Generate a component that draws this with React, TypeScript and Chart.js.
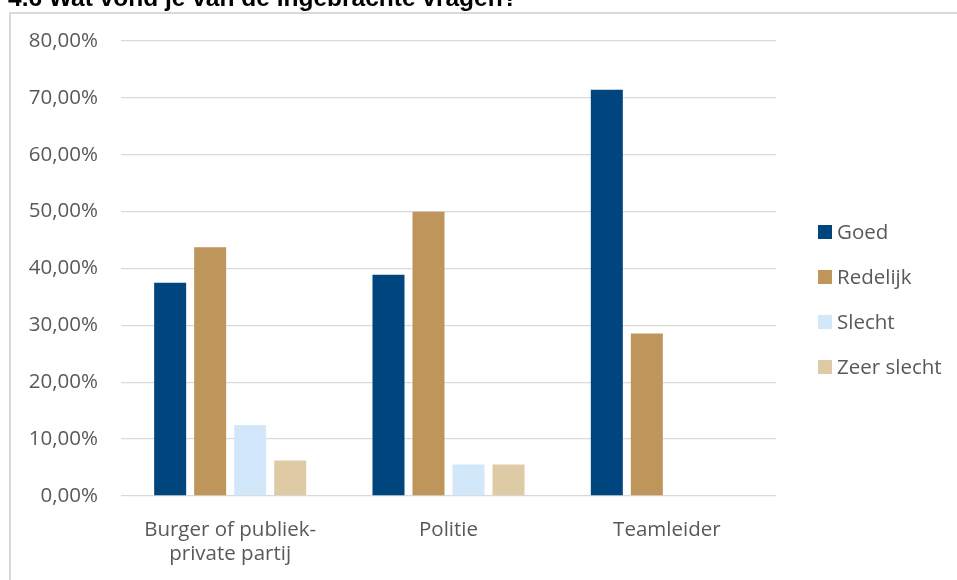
import React, { useEffect, useRef } from "react";
import { Chart, registerables } from "chart.js";

Chart.register(...registerables);

// Survey answers per group, in percent
const categories: (string | string[])[] = [["Burger of publiek-", "private partij"], "Politie", "Teamleider"];
const seriesNames = ["Goed", "Redelijk", "Slecht", "Zeer slecht"];
const goed = [37.5, 38.89, 71.43];
const redelijk = [43.75, 50.0, 28.57];
const slecht = [12.5, 5.56, 0];
const zeerSlecht = [6.25, 5.56, 0];
const seriesColors = ["#00457E", "#BE955A", "#D3E7FB", "#DECBA5"];
const yMin = 0;
const yMax = 80;
const yStep = 10;
const titleText = "4.6 Wat vond je van de ingebrachte vragen?";

const TEXT_COLOR = "#595959";
const GRID_COLOR = "#D9D9D9";
const FONT_FAMILY = '"Open Sans", "DejaVu Sans", sans-serif';
const FONT_SIZE = 20.5;

const formatPercent = (v: number) => v.toFixed(2).replace(".", ",") + "%";

// Frame and the heading above it
const framePlugin = {
  id: "frame",
  beforeDraw(chart: Chart) {
    const { ctx, width, height } = chart;
    ctx.save();
    ctx.fillStyle = "#FFFFFF";
    ctx.fillRect(0, 0, width, height);
    ctx.strokeStyle = GRID_COLOR;
    ctx.lineWidth = 2;
    ctx.beginPath();
    ctx.moveTo(10, height + 5);
    ctx.lineTo(10, 13);
    ctx.lineTo(width + 5, 13);
    ctx.stroke();
    ctx.fillStyle = "#000000";
    ctx.font = 'bold 24.5px "Liberation Sans", Arial, sans-serif';
    ctx.textBaseline = "alphabetic";
    ctx.textAlign = "left";
    ctx.fillText(titleText, 8, 6);
    ctx.restore();
  },
};

// Legend drawn to the right of the plot area
const sideLegendPlugin = {
  id: "sideLegend",
  afterDraw(chart: Chart) {
    const { ctx, chartArea } = chart;
    const x0 = chartArea.right + 42;
    const yStart = 232;
    const gap = 45;
    const box = 14;
    ctx.save();
    ctx.font = `${FONT_SIZE}px ${FONT_FAMILY}`;
    ctx.textAlign = "left";
    ctx.textBaseline = "alphabetic";
    chart.data.datasets.forEach((ds, i) => {
      const cy = yStart + i * gap;
      ctx.fillStyle = ds.backgroundColor as string;
      ctx.fillRect(x0, cy - box / 2, box, box);
      ctx.fillStyle = TEXT_COLOR;
      ctx.fillText(String(ds.label), x0 + box + 5, cy + 7);
    });
    ctx.restore();
  },
};

export default function App() {
  const canvasRef = useRef<HTMLCanvasElement | null>(null);

  useEffect(() => {
    const canvas = canvasRef.current;
    if (!canvas) return;
    const values = [goed, redelijk, slecht, zeerSlecht];
    const chart = new Chart(canvas, {
      type: "bar",
      data: {
        labels: categories,
        datasets: seriesNames.map((name, i) => ({
          label: name,
          data: values[i],
          backgroundColor: seriesColors[i],
          borderWidth: 0,
          categoryPercentage: 0.733,
          barPercentage: 0.8,
        })),
      },
      options: {
        responsive: false,
        animation: false,
        devicePixelRatio: 1,
        layout: { padding: { left: 0, right: 181, top: 41, bottom: 0 } },
        plugins: {
          legend: { display: false },
          title: { display: false },
          tooltip: { enabled: false },
        },
        scales: {
          x: {
            grid: { display: false },
            border: { display: false },
            ticks: {
              color: TEXT_COLOR,
              padding: 14,
              maxRotation: 0,
              autoSkip: false,
              font: { family: FONT_FAMILY, size: FONT_SIZE, lineHeight: 1.17 },
            },
            afterFit(scale: any) {
              scale.height = 84;
            },
          },
          y: {
            min: yMin,
            max: yMax,
            grid: { color: GRID_COLOR, lineWidth: 1.3, drawTicks: false },
            border: { display: false },
            ticks: {
              stepSize: yStep,
              color: TEXT_COLOR,
              padding: 23,
              font: { family: FONT_FAMILY, size: FONT_SIZE },
              callback: (v: any) => formatPercent(Number(v)),
            },
            afterFit(scale: any) {
              scale.width = 121;
            },
          },
        },
      },
      plugins: [framePlugin, sideLegendPlugin],
    });
    return () => chart.destroy();
  }, []);

  return (
    <div style={{ position: "absolute", left: 0, top: 0, width: 957, height: 580, background: "#fff" }}>
      <canvas ref={canvasRef} width={957} height={580} style={{ display: "block" }} />
    </div>
  );
}
